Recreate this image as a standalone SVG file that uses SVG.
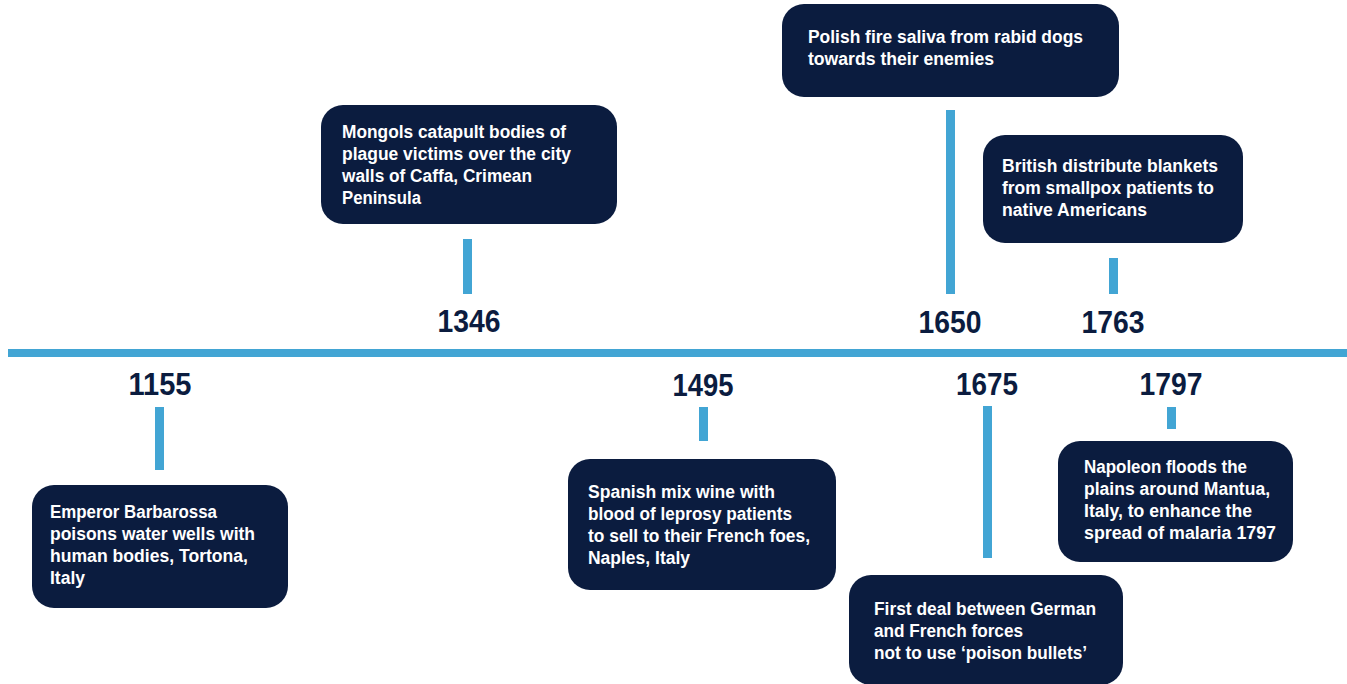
<svg xmlns="http://www.w3.org/2000/svg" width="1347" height="684" viewBox="0 0 1347 684">
<style>
.box{fill:#0B1C3F;}
.bar{fill:#42A5D4;}
.t{font-family:"Liberation Sans",Arial,sans-serif;font-weight:bold;font-size:18px;fill:#FFFFFF;}
.yr{font-family:"Liberation Sans",Arial,sans-serif;font-weight:bold;font-size:32px;fill:#0B1C3F;text-anchor:middle;}
</style>
<rect width="1347" height="684" fill="#FFFFFF"/>
<g id="connectors">
<rect class="bar" x="8" y="349" width="1339" height="8"/>
<rect class="bar" x="155" y="407" width="9" height="63"/>
<rect class="bar" x="463" y="239" width="9" height="55"/>
<rect class="bar" x="699" y="407" width="9" height="34"/>
<rect class="bar" x="946" y="110" width="9" height="184"/>
<rect class="bar" x="983" y="406" width="9" height="152"/>
<rect class="bar" x="1109" y="258" width="9" height="36"/>
<rect class="bar" x="1167" y="407" width="9" height="22"/>
</g>
<g id="n1155">
<text class="yr" x="160" y="395" textLength="63" lengthAdjust="spacingAndGlyphs">1155</text>
<rect class="box" x="32" y="485" width="256" height="123" rx="22"/>
<text class="t" x="50" y="518" textLength="167" lengthAdjust="spacingAndGlyphs">Emperor Barbarossa</text>
<text class="t" x="50" y="540" textLength="205" lengthAdjust="spacingAndGlyphs">poisons water wells with</text>
<text class="t" x="50" y="562" textLength="198" lengthAdjust="spacingAndGlyphs">human bodies, Tortona,</text>
<text class="t" x="50" y="584" textLength="35" lengthAdjust="spacingAndGlyphs">Italy</text>
</g>
<g id="n1346">
<text class="yr" x="469" y="332" textLength="63" lengthAdjust="spacingAndGlyphs">1346</text>
<rect class="box" x="321" y="105" width="296" height="119" rx="22"/>
<text class="t" x="342" y="138" textLength="224" lengthAdjust="spacingAndGlyphs">Mongols catapult bodies of</text>
<text class="t" x="342" y="160" textLength="229" lengthAdjust="spacingAndGlyphs">plague victims over the city</text>
<text class="t" x="342" y="182" textLength="190" lengthAdjust="spacingAndGlyphs">walls of Caffa, Crimean</text>
<text class="t" x="342" y="204" textLength="79" lengthAdjust="spacingAndGlyphs">Peninsula</text>
</g>
<g id="n1495">
<text class="yr" x="703" y="396" textLength="61" lengthAdjust="spacingAndGlyphs">1495</text>
<rect class="box" x="568" y="459" width="268" height="131" rx="22"/>
<text class="t" x="588" y="498" textLength="187" lengthAdjust="spacingAndGlyphs">Spanish mix wine with</text>
<text class="t" x="588" y="520" textLength="204" lengthAdjust="spacingAndGlyphs">blood of leprosy patients</text>
<text class="t" x="588" y="542" textLength="222" lengthAdjust="spacingAndGlyphs">to sell to their French foes,</text>
<text class="t" x="588" y="564" textLength="102" lengthAdjust="spacingAndGlyphs">Naples, Italy</text>
</g>
<g id="n1650">
<text class="yr" x="950" y="333" textLength="63" lengthAdjust="spacingAndGlyphs">1650</text>
<rect class="box" x="782" y="4" width="337" height="93" rx="22"/>
<text class="t" x="808" y="43" textLength="275" lengthAdjust="spacingAndGlyphs">Polish fire saliva from rabid dogs</text>
<text class="t" x="808" y="65" textLength="186" lengthAdjust="spacingAndGlyphs">towards their enemies</text>
</g>
<g id="n1675">
<text class="yr" x="987" y="395" textLength="62" lengthAdjust="spacingAndGlyphs">1675</text>
<rect class="box" x="849" y="575" width="274" height="110" rx="22"/>
<text class="t" x="874" y="615" textLength="222" lengthAdjust="spacingAndGlyphs">First deal between German</text>
<text class="t" x="874" y="637" textLength="149" lengthAdjust="spacingAndGlyphs">and French forces</text>
<text class="t" x="874" y="659" textLength="213" lengthAdjust="spacingAndGlyphs">not to use ‘poison bullets’</text>
</g>
<g id="n1763">
<text class="yr" x="1113" y="333" textLength="63" lengthAdjust="spacingAndGlyphs">1763</text>
<rect class="box" x="983" y="135" width="260" height="108" rx="22"/>
<text class="t" x="1002" y="172" textLength="216" lengthAdjust="spacingAndGlyphs">British distribute blankets</text>
<text class="t" x="1002" y="194" textLength="212" lengthAdjust="spacingAndGlyphs">from smallpox patients to</text>
<text class="t" x="1002" y="216" textLength="145" lengthAdjust="spacingAndGlyphs">native Americans</text>
</g>
<g id="n1797">
<text class="yr" x="1171" y="395" textLength="63" lengthAdjust="spacingAndGlyphs">1797</text>
<rect class="box" x="1058" y="441" width="235" height="121" rx="22"/>
<text class="t" x="1084" y="473" textLength="163" lengthAdjust="spacingAndGlyphs">Napoleon floods the</text>
<text class="t" x="1084" y="495" textLength="186" lengthAdjust="spacingAndGlyphs">plains around Mantua,</text>
<text class="t" x="1084" y="517" textLength="168" lengthAdjust="spacingAndGlyphs">Italy, to enhance the</text>
<text class="t" x="1084" y="539" textLength="192" lengthAdjust="spacingAndGlyphs">spread of malaria 1797</text>
</g>
</svg>
